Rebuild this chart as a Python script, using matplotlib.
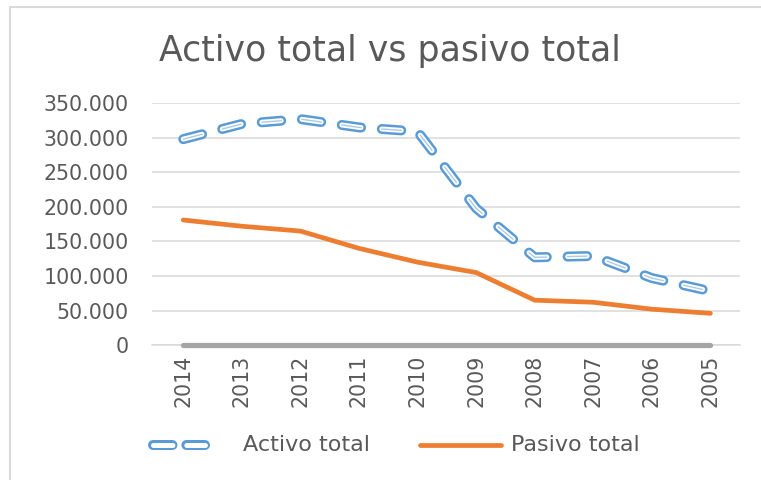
import matplotlib
matplotlib.use("Agg")
import matplotlib.pyplot as plt
from matplotlib.patches import Rectangle
from matplotlib.lines import Line2D
from matplotlib.ticker import FuncFormatter

years = ["2014", "2013", "2012", "2011", "2010", "2009", "2008", "2007", "2006", "2005"]
activo = [298000, 320000, 327000, 315000, 309000, 198000, 127000, 129000, 97000, 78000]
pasivo = [181000, 172000, 165000, 140000, 120000, 105000, 65000, 62000, 52000, 46000]
cero = [0] * len(years)

plt.rcParams["font.family"] = ["DejaVu Sans"]
plt.rcParams["lines.scale_dashes"] = False

fig = plt.figure(figsize=(7.61, 4.80), dpi=100)
ax = fig.add_axes([0.2, 0.281, 0.772, 0.504])

x = list(range(len(years)))
blue = "#5b9bd5"
orange = "#ed7d31"
grey_txt = "#595959"
dash = (0, (14, 15))

# zero series, grey
ax.plot(x, cero, color="#a5a5a5", lw=3.8, solid_capstyle="round", zorder=3, clip_on=False)
# pasivo
ax.plot(x, pasivo, color=orange, lw=3.4, solid_capstyle="round", zorder=4)
# activo: compound dashed line
ax.plot(x, activo, color=blue, lw=7.2, linestyle=dash, dash_capstyle="round", zorder=5)
ax.plot(x, activo, color="white", lw=3.6, linestyle=dash, dash_capstyle="round", zorder=6)
ax.plot(x, activo, color="#a9cbea", lw=1.0, linestyle=dash, dash_capstyle="round", zorder=7)

ax.set_xlim(-0.53, 9.5)
ax.set_ylim(0, 350000)
ax.set_yticks(range(0, 350001, 50000))
ax.yaxis.set_major_formatter(FuncFormatter(lambda v, p: "0" if v == 0 else f"{int(v):,}".replace(",", ".")))
ax.set_xticks(x)
ax.set_xticklabels(years, rotation=90)
ax.tick_params(axis="both", length=0, labelsize=14.8, labelcolor=grey_txt)
ax.tick_params(axis="y", pad=17)
ax.tick_params(axis="x", pad=7)
ax.grid(axis="y", color="#d9d9d9", lw=1.1)
ax.set_axisbelow(True)
for s in ["top", "right", "left"]:
    ax.spines[s].set_visible(False)
ax.spines["bottom"].set_color("#d9d9d9")
ax.spines["bottom"].set_linewidth(1.1)

fig.text(0.513, 0.893, "Activo total vs pasivo total", ha="center", va="center",
         fontsize=25, color=grey_txt)

# legend, drawn by hand so the two keys can have different lengths
ly = 1 - 445 / 480
fig.add_artist(Line2D([153 / 761, 205 / 761], [ly, ly], color=blue, lw=7.2,
                      linestyle=(0, (14, 10)), dash_capstyle="round"))
fig.add_artist(Line2D([153 / 761, 205 / 761], [ly, ly], color="white", lw=3.6,
                      linestyle=(0, (14, 10)), dash_capstyle="round"))
fig.text(243 / 761, ly, "Activo total", ha="left", va="center", fontsize=16, color=grey_txt)
fig.add_artist(Line2D([420 / 761, 501 / 761], [ly, ly], color=orange, lw=3.4,
                      solid_capstyle="round"))
fig.text(511 / 761, ly, "Pasivo total", ha="left", va="center", fontsize=16, color=grey_txt)

fig.patches.append(Rectangle((10 / 761, -0.1), 1.2, 1 - 7 / 480 + 0.1, transform=fig.transFigure,
                             fill=False, edgecolor="#d9d9d9", lw=1.5))

fig.savefig("out.png", dpi=100)
